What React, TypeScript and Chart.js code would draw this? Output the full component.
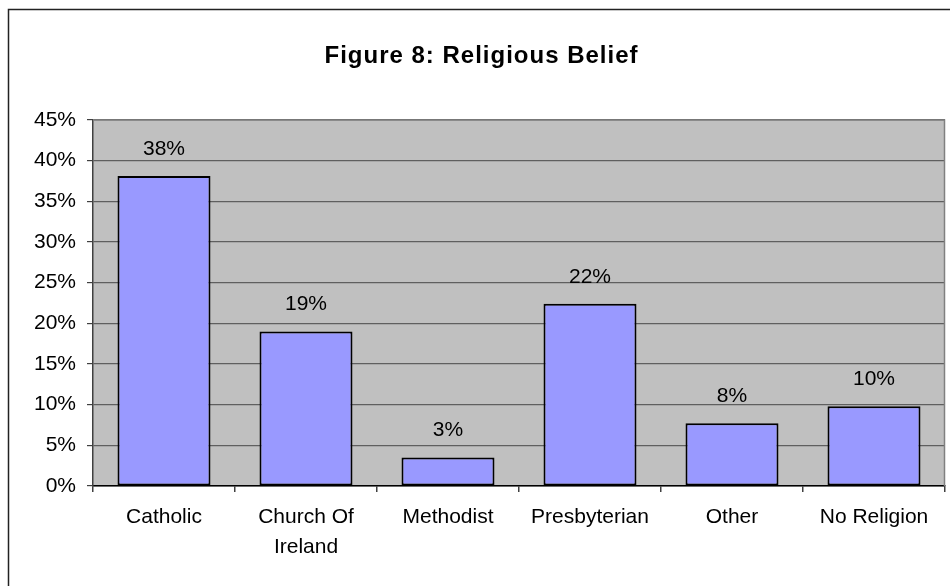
import React, { useEffect, useRef } from "react";
import { Chart, registerables } from "chart.js";

Chart.register(...registerables);

const categories: (string | string[])[] = [
  "Catholic",
  ["Church Of", "Ireland"],
  "Methodist",
  "Presbyterian",
  "Other",
  "No Religion",
];
const shares: number[] = [38.1, 19.0, 3.5, 22.4, 7.7, 9.8];
const shareLabels: string[] = ["38%", "19%", "3%", "22%", "8%", "10%"];
const titleText = "Figure 8: Religious Belief";
const yMin = 0;
const yMax = 45;
const yStep = 5;

const FONT = "'Liberation Sans', Arial, sans-serif";

export default function App() {
  const ref = useRef<HTMLCanvasElement | null>(null);

  useEffect(() => {
    const canvas = ref.current;
    if (!canvas) return;

    const framePlugin = {
      id: "frame",
      beforeDraw(chart: any) {
        const { ctx, chartArea: a } = chart;
        ctx.save();
        ctx.fillStyle = "#ffffff";
        ctx.fillRect(0, 0, chart.width, chart.height);
        ctx.strokeStyle = "#222222";
        ctx.lineWidth = 1.5;
        ctx.strokeRect(8.5, 9.5, 1000, 1000);
        ctx.fillStyle = "#C0C0C0";
        ctx.fillRect(a.left, a.top, a.right - a.left, a.bottom - a.top);
        ctx.restore();
      },
      afterDraw(chart: any) {
        const { ctx, chartArea: a } = chart;
        ctx.save();
        ctx.strokeStyle = "#808080";
        ctx.lineWidth = 1.5;
        ctx.beginPath();
        ctx.moveTo(a.left, a.top);
        ctx.lineTo(a.right - 0.5, a.top);
        ctx.lineTo(a.right - 0.5, a.bottom);
        ctx.stroke();
        // title
        const ls = 1.0;
        ctx.font = `bold 24px ${FONT}`;
        (ctx as any).letterSpacing = `${ls}px`;
        ctx.fillStyle = "#000";
        ctx.textAlign = "center";
        ctx.textBaseline = "alphabetic";
        ctx.fillText(titleText, 481 + ls / 2, 63);
        ctx.restore();
      },
    };

    const labelPlugin = {
      id: "barLabels",
      afterDatasetsDraw(chart: any) {
        const { ctx } = chart;
        const meta = chart.getDatasetMeta(0);
        ctx.save();
        ctx.font = `21px ${FONT}`;
        ctx.fillStyle = "#000";
        ctx.textAlign = "center";
        ctx.textBaseline = "middle";
        meta.data.forEach((el: any, i: number) => {
          ctx.fillText(shareLabels[i], el.x, el.y - 27);
        });
        ctx.restore();
      },
    };

    const chart = new Chart(canvas, {
      type: "bar",
      data: {
        labels: categories as any,
        datasets: [
          {
            data: shares,
            backgroundColor: "#9999FF",
            borderColor: "#000000",
            borderWidth: 2,
            borderSkipped: false,
            categoryPercentage: 1,
            barPercentage: 0.655,
          },
        ],
      },
      options: {
        responsive: false,
        animation: false,
        events: [],
        layout: { padding: { top: 120, right: 5, left: 0, bottom: 0 } },
        plugins: {
          legend: { display: false },
          title: { display: false },
          tooltip: { enabled: false },
        },
        scales: {
          x: {
            offset: true,
            grid: {
              offset: true,
              drawOnChartArea: false,
              drawTicks: true,
              tickLength: 6,
              tickColor: "#404040",
              lineWidth: 1.5,
            },
            border: { display: true, color: "#000000", width: 1.5 },
            ticks: {
              color: "#000",
              font: { family: FONT, size: 21, lineHeight: 1.43 },
              padding: 10,
              maxRotation: 0,
              autoSkip: false,
            },
            afterFit(scale: any) {
              scale.height = 100;
            },
          },
          y: {
            min: yMin,
            max: yMax,
            grid: {
              color: "#5f5f5f",
              lineWidth: 1.2,
              tickLength: 6,
              tickColor: "#404040",
            },
            border: { display: true, color: "#404040", width: 1.5 },
            ticks: {
              stepSize: yStep,
              color: "#000",
              font: { family: FONT, size: 21 },
              padding: 11,
              callback: (v: any) => `${v}%`,
            },
            afterFit(scale: any) {
              scale.width = 93;
            },
          },
        },
      },
      plugins: [framePlugin, labelPlugin],
    });

    return () => chart.destroy();
  }, []);

  return (
    <div style={{ position: "absolute", left: 0, top: 0, width: 950, height: 586 }}>
      <canvas ref={ref} width={950} height={586} style={{ display: "block" }} />
    </div>
  );
}
